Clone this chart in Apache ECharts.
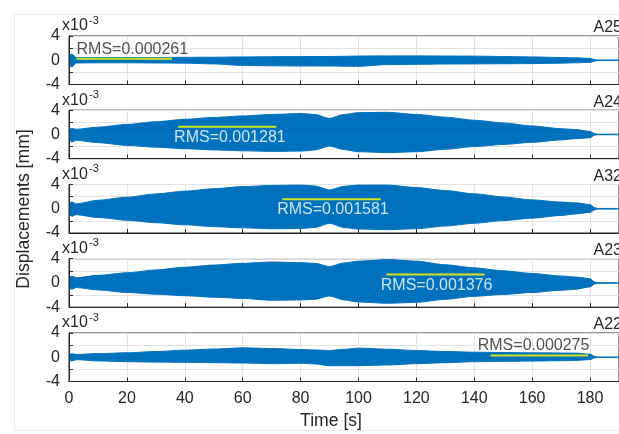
<!DOCTYPE html>
<html><head><meta charset="utf-8">
<script src="https://cdn.jsdelivr.net/npm/echarts@6/dist/echarts.min.js"></script>
<style>html,body{margin:0;padding:0;background:#fff}#c{width:619px;height:434px}</style>
</head><body><div id="c"></div>
<script>
// ---------------- DATA (values in units of 1e-3 mm) ----------------
const time = [0.3, 1, 2.5, 10, 20, 30, 40, 50, 60, 70, 80, 85, 90, 95, 100, 110, 120, 130, 140, 150, 160, 170, 175, 180, 181.5, 182.5, 190];

const a25Upper = [0.9, 1.0, 0.45, 0.45, 0.45, 0.45, 0.48, 0.5, 0.55, 0.58, 0.6, 0.62, 0.62, 0.65, 0.7, 0.72, 0.72, 0.7, 0.68, 0.62, 0.55, 0.45, 0.4, 0.3, 0.12, 0.05, 0.05];
const a25Lower = [-0.9, -1.1, -0.45, -0.42, -0.42, -0.45, -0.48, -0.6, -0.85, -0.92, -0.95, -0.95, -0.95, -0.98, -1.0, -0.72, -0.68, -0.62, -0.6, -0.58, -0.55, -0.48, -0.42, -0.35, -0.15, -0.05, -0.05];

const a24Upper = [0.9, 0.97, 0.86, 1.2, 1.65, 2.1, 2.5, 2.8, 3.05, 3.3, 3.45, 3.3, 2.65, 3.3, 3.6, 3.65, 3.3, 2.85, 2.35, 1.9, 1.4, 0.95, 0.8, 0.5, 0.15, 0.05, 0.05];
const a24Lower = [-1.0, -1.24, -0.97, -1.35, -1.8, -2.1, -2.35, -2.55, -2.7, -2.8, -2.75, -2.55, -1.9, -2.5, -2.85, -3.0, -2.85, -2.45, -2.0, -1.65, -1.3, -0.9, -0.7, -0.55, -0.15, -0.05, -0.05];

const a32Upper = [1.0, 1.13, 0.8, 1.4, 1.9, 2.45, 2.9, 3.3, 3.65, 3.85, 3.9, 3.75, 3.1, 3.7, 3.9, 3.9, 3.5, 3.0, 2.46, 1.95, 1.46, 1.1, 0.97, 0.69, 0.2, 0.05, 0.05];
const a32Lower = [-1.0, -1.24, -0.97, -1.45, -1.9, -2.3, -2.65, -2.95, -3.15, -3.3, -3.25, -3.1, -2.4, -3.1, -3.35, -3.45, -3.3, -2.85, -2.4, -1.95, -1.55, -1.1, -0.86, -0.6, -0.2, -0.05, -0.05];

const a23Upper = [1.0, 1.14, 0.86, 1.25, 1.68, 2.15, 2.6, 2.95, 3.24, 3.45, 3.35, 3.24, 2.7, 3.3, 3.6, 3.85, 3.6, 3.0, 2.49, 2.0, 1.57, 1.15, 0.97, 0.7, 0.2, 0.05, 0.05];
const a23Lower = [-0.9, -1.03, -0.76, -1.15, -1.57, -1.85, -2.1, -2.35, -2.55, -2.85, -2.8, -2.7, -2.15, -2.8, -3.15, -3.35, -3.2, -2.7, -2.2, -1.9, -1.57, -1.2, -1.03, -0.65, -0.2, -0.05, -0.05];

const a22Upper = [0.5, 0.57, 0.46, 0.6, 0.73, 0.95, 1.17, 1.35, 1.55, 1.44, 1.28, 1.2, 1.11, 1.3, 1.5, 1.33, 1.11, 0.95, 0.84, 0.78, 0.73, 0.7, 0.68, 0.5, 0.15, 0.05, 0.05];
const a22Lower = [-0.5, -0.63, -0.4, -0.6, -0.73, -0.8, -0.84, -0.9, -0.95, -1.06, -1.0, -1.1, -1.39, -1.39, -1.39, -1.28, -1.06, -0.9, -0.73, -0.68, -0.63, -0.57, -0.52, -0.4, -0.12, -0.05, -0.05];

const channels = ['A25', 'A24', 'A32', 'A23', 'A22'];
const rmsValues = [0.000261, 0.001281, 0.001581, 0.001376, 0.000275];   // mm
const rmsLineStart = [2.6, 37.7, 73.7, 109.6, 145.6];                  // s
const rmsLineEnd = [35.6, 71.6, 107.7, 143.6, 179.3];                  // s
const rmsLabelStart = [2.6, 36.3, 71.9, 107.7, 141.2];                 // s
const yTickLabels = [-4, 0, 4];
const xAxisMin = 0, xAxisMax = 190, xAxisStep = 20;
const yAxisMin = -4, yAxisMax = 4, yAxisStep = 2;

// ---------------- LAYOUT / STYLE ----------------
const uppers = [a25Upper, a24Upper, a32Upper, a23Upper, a22Upper];
const lowers = [a25Lower, a24Lower, a32Lower, a23Lower, a22Lower];
const FONT = "'Liberation Sans', Arial, Helvetica, sans-serif";
const INK = '#262626';
const BLUE = '#0072BD';
const RMS_COLOR = '#D2E21E';
const GRID_COLOR = '#E3E3E3';
const gridLeft = 69, gridWidth = 553, gridHeight = 48.5;
const gridTops = [36, 110.2, 184.5, 258.7, 333];
const labelAbove = [true, false, false, false, true];
const labelTextColor = [INK, '#FFFFFF', '#FFFFFF', '#FFFFFF', INK];

const grids = [], xAxes = [], yAxes = [], series = [], graphics = [];

gridTops.forEach((top, i) => {
  const last = i === gridTops.length - 1;
  grids.push({
    left: gridLeft, top: top, width: gridWidth, height: gridHeight,
    show: true, borderColor: INK, borderWidth: 1, backgroundColor: 'transparent', containLabel: false
  });
  xAxes.push({
    type: 'value', gridIndex: i, min: xAxisMin, max: xAxisMax, interval: xAxisStep,
    axisLine: { show: true, onZero: false, lineStyle: { color: INK, width: 1 } },
    axisTick: { show: true, inside: true, length: 4, lineStyle: { color: INK } },
    axisLabel: { show: last, showMaxLabel: false, margin: 9, fontSize: 16, color: INK, fontFamily: FONT },
    splitLine: { show: true, lineStyle: { color: GRID_COLOR, width: 1 } }
  });
  yAxes.push({
    type: 'value', gridIndex: i, min: yAxisMin, max: yAxisMax, interval: yAxisStep,
    axisLine: { show: true, lineStyle: { color: INK, width: 1 } },
    axisTick: { show: true, inside: true, length: 4, lineStyle: { color: INK } },
    axisLabel: {
      margin: 9, fontSize: 16, color: INK, fontFamily: FONT,
      formatter: v => (yTickLabels.indexOf(v) >= 0 ? String(v) : '')
    },
    splitLine: { show: true, lineStyle: { color: GRID_COLOR, width: 1 } }
  });

  // signal envelope: upper part filled to just below 0, lower part filled to just above 0
  series.push({
    type: 'line', xAxisIndex: i, yAxisIndex: i, silent: true, symbol: 'none', z: 2,
    smooth: 0.25, smoothMonotone: 'x',
    data: time.map((t, k) => [t, uppers[i][k]]),
    lineStyle: { color: BLUE, width: 1 },
    areaStyle: { color: BLUE, opacity: 1, origin: -0.04 }
  });
  series.push({
    type: 'line', xAxisIndex: i, yAxisIndex: i, silent: true, symbol: 'none', z: 2,
    smooth: 0.25, smoothMonotone: 'x',
    data: time.map((t, k) => [t, lowers[i][k]]),
    lineStyle: { color: BLUE, width: 1 },
    areaStyle: { color: BLUE, opacity: 1, origin: 0.04 }
  });
  // RMS level line
  const rmsY = rmsValues[i] * 1000;
  series.push({
    type: 'line', xAxisIndex: i, yAxisIndex: i, silent: true, symbol: 'none', z: 5,
    data: [[rmsLineStart[i], rmsY], [rmsLineEnd[i], rmsY]],
    lineStyle: { color: RMS_COLOR, width: 2 }
  });
  // RMS text
  series.push({
    type: 'scatter', xAxisIndex: i, yAxisIndex: i, silent: true, symbolSize: 0, z: 6,
    data: [[rmsLabelStart[i], rmsY]],
    label: {
      show: true, position: 'inside', align: 'left',
      verticalAlign: labelAbove[i] ? 'bottom' : 'top',
      offset: [0, labelAbove[i] ? -1.5 : 2.5],
      formatter: 'RMS=' + rmsValues[i].toFixed(6),
      fontSize: 16, fontFamily: FONT, color: labelTextColor[i]
    }
  });

  // channel name (right, above box)
  graphics.push({
    type: 'text', x: gridLeft + gridWidth, y: top, z: 10,
    style: { text: channels[i], align: 'right', verticalAlign: 'bottom', font: '16px ' + FONT, fill: INK }
  });
  // exponent label x10^-3
  graphics.push({
    type: 'text', x: 62, y: top - 10, z: 10,
    style: { text: 'x10', align: 'left', verticalAlign: 'middle', font: '16px ' + FONT, fill: INK }
  });
  graphics.push({
    type: 'text', x: 89, y: top - 15.5, z: 10,
    style: { text: '-3', align: 'left', verticalAlign: 'middle', font: '11px ' + FONT, fill: INK }
  });
});

graphics.push({
  type: 'text', x: 331, y: 421, z: 10,
  style: { text: 'Time [s]', align: 'center', verticalAlign: 'middle', font: '17.6px ' + FONT, fill: INK }
});
graphics.push({
  type: 'text', x: 24, y: 209, rotation: Math.PI / 2, z: 10,
  style: { text: 'Displacements [mm]', align: 'center', verticalAlign: 'middle', font: '17.6px ' + FONT, fill: INK }
});
graphics.push({
  type: 'rect', z: 0, silent: true,
  shape: { x: 14.5, y: 14.5, width: 640, height: 416 },
  style: { fill: 'none', stroke: '#EBEBEB', lineWidth: 1 }
});

const chart = echarts.init(document.getElementById('c'), null, { renderer: 'canvas' });
chart.setOption({
  animation: false,
  backgroundColor: '#FFFFFF',
  textStyle: { fontFamily: FONT },
  grid: grids, xAxis: xAxes, yAxis: yAxes, series: series, graphic: graphics
});
</script>
</body></html>
